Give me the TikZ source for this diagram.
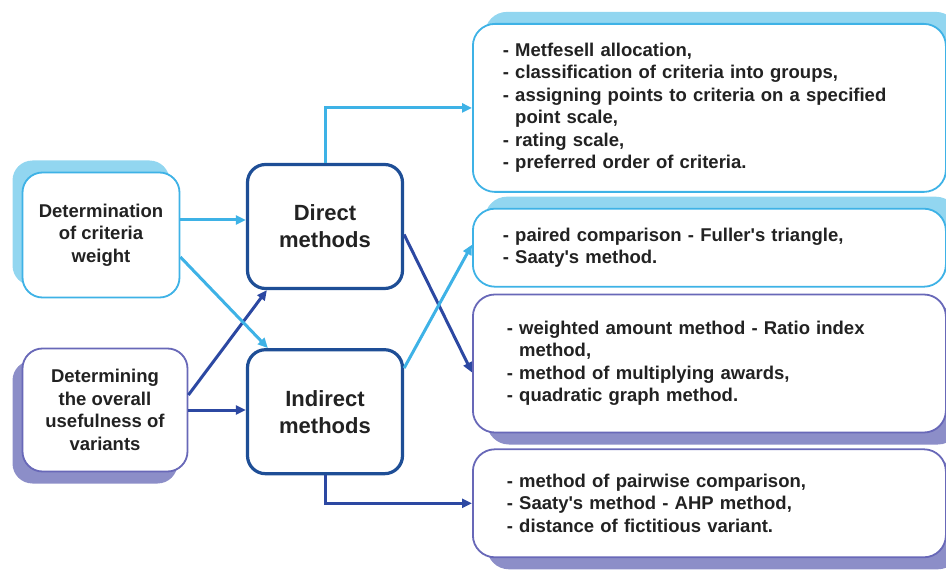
\documentclass[tikz,border=0pt]{standalone}
\usepackage{fontspec}
\setmainfont{Liberation Sans}
\usepackage{xcolor}
\usetikzlibrary{arrows.meta, positioning, shadows}

\definecolor{skyline}{RGB}{62,178,230}
\definecolor{skyshade}{RGB}{146,214,240}
\definecolor{navyline}{RGB}{30,78,150}
\definecolor{navyarrow}{RGB}{44,72,162}
\definecolor{lilacline}{RGB}{104,104,184}
\definecolor{lilacshade}{RGB}{140,142,200}
\definecolor{inktext}{RGB}{34,34,34}

\begin{document}
\begin{tikzpicture}[x=1pt, y=-1pt, node distance=17pt and 66pt,
    every node/.style={text=inktext},
    srcbox/.style={draw, line width=1.8pt, fill=white, rounded corners=20pt, align=center,
        font=\fontsize{18.5}{22.5}\selectfont\bfseries},
    methodbox/.style={draw=navyline, line width=3.2pt, fill=white, rounded corners=18pt, align=center,
        minimum width=155pt, minimum height=124pt, font=\fontsize{22}{27}\selectfont\bfseries},
    listbox/.style={draw, line width=1.8pt, fill=white, rounded corners=22pt, align=left,
        text width=413pt, inner xsep=30pt, font=\fontsize{18.5}{22.5}\selectfont\bfseries},
    skyrim/.style={draw=skyline},
    lilacrim/.style={draw=lilacline, text width=405pt, inner xsep=34pt},
    skyarrow/.style={draw=skyline, line width=3pt, -{Triangle[length=10pt,width=9pt]}},
    navyarr/.style={draw=navyarrow, line width=3pt, -{Triangle[length=10pt,width=9pt]}}]
    \useasboundingbox (0,0) rectangle (946,572);

    % left column
    \node (critw) [srcbox, skyrim, minimum width=157pt, minimum height=125pt,
        general shadow={fill=skyshade, shadow xshift=-10pt, shadow yshift=12pt}] at (101,235)
        {Determination\\of criteria\\weight};
    \node (usef) [srcbox, draw=lilacline, minimum width=165pt, minimum height=123pt,
        general shadow={fill=lilacshade, shadow xshift=-10pt, shadow yshift=-12pt}] at (105,410)
        {Determining\\the overall\\usefulness of\\variants};

    % middle column
    \node (direct) [methodbox] at (325,226.5) {Direct\\methods};
    \node (indirect) [methodbox, below=58pt of direct] {Indirect\\methods};

    % right column
    \node (rb1) [listbox, skyrim, anchor=north west, minimum height=168pt,
        general shadow={fill=skyshade, shadow xshift=12pt, shadow yshift=12pt}] at (472,23)
        {- Metfesell allocation,\\
         - classification of criteria into groups,\\
         - assigning points to criteria on a specified\\
         \phantom{- }point scale,\\
         - rating scale,\\
         - preferred order of criteria.};
    \node (rb2) [listbox, skyrim, below=15pt of rb1.south west, anchor=north west, minimum height=78pt,
        general shadow={fill=skyshade, shadow xshift=12pt, shadow yshift=12pt}]
        {- paired comparison - Fuller{\textquotesingle}s triangle,\\
         - Saaty{\textquotesingle}s method.};
    \node (rb3) [listbox, lilacrim, below=6pt of rb2.south west, anchor=north west, minimum height=138pt,
        general shadow={fill=lilacshade, shadow xshift=14pt, shadow yshift=-12pt}]
        {- weighted amount method - Ratio index\\
         \phantom{- }method,\\
         - method of multiplying awards,\\
         - quadratic graph method.};
    \node (rb4) [listbox, lilacrim, below=15pt of rb3.south west, anchor=north west, minimum height=108pt,
        general shadow={fill=lilacshade, shadow xshift=14pt, shadow yshift=-12pt}]
        {- method of pairwise comparison,\\
         - Saaty{\textquotesingle}s method - AHP method,\\
         - distance of fictitious variant.};

    % connectors
    \draw [navyarr] ([yshift=15pt]usef.east) -- ([xshift=21pt]direct.south west);
    \draw [navyarr] (usef.east) -- (usef.east -| indirect.west);
    \draw [skyarrow] ([yshift=15pt]critw.east) -- ([yshift=15pt]critw.east -| direct.west);
    \draw [skyarrow] ([yshift=-22pt]critw.east) -- ([xshift=22pt]indirect.north west);
    \draw [skyarrow] (direct.north) |- (rb1.west);
    \draw [navyarr] ([yshift=-8pt]direct.east) -- ([yshift=-9pt]rb3.west);
    \draw [skyarrow] ([yshift=-20pt]indirect.north east) -- ([yshift=3pt]rb2.west);
    \draw [navyarr] (indirect.south) |- (rb4.west);
\end{tikzpicture}
\end{document}
